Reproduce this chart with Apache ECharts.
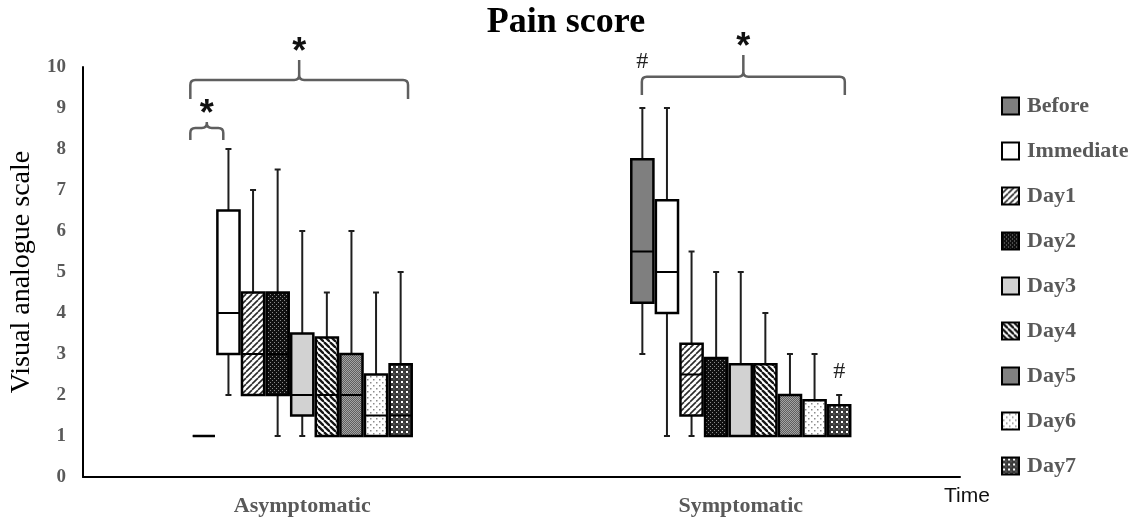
<!DOCTYPE html>
<html>
<head>
<meta charset="utf-8">
<script src="https://cdn.jsdelivr.net/npm/echarts@6/dist/echarts.min.js"></script>
<style>
  html, body { margin: 0; padding: 0; background: #fff; }
  #chart { width: 1132px; height: 517px; }
</style>
</head>
<body>
<div id="chart"></div>
<script>
// ---- data -------------------------------------------------------------
const groups = ['Asymptomatic', 'Symptomatic'];
const timePoints = ['Before', 'Immediate', 'Day1', 'Day2', 'Day3', 'Day4', 'Day5', 'Day6', 'Day7'];

// five-number summaries [min, Q1, median, Q3, max], one row per group
const before    = [[1, 1, 1, 1, 1],        [3, 4.25, 5.5, 7.75, 9]];
const immediate = [[2, 3, 4, 6.5, 8],      [1, 4, 5, 6.75, 9]];
const day1      = [[2, 2, 3, 4.5, 7],      [1, 1.5, 2.5, 3.25, 5.5]];
const day2      = [[1, 2, 3, 4.5, 7.5],    [1, 1, 1, 2.9, 5]];
const day3      = [[1, 1.5, 2, 3.5, 6],    [1, 1, 1, 2.75, 5]];
const day4      = [[1, 1, 2, 3.4, 4.5],    [1, 1, 1, 2.75, 4]];
const day5      = [[1, 1, 2, 3, 6],        [1, 1, 1, 2, 3]];
const day6      = [[1, 1, 1.5, 2.5, 4.5],  [1, 1, 1, 1.875, 3]];
const day7      = [[1, 1, 1.5, 2.75, 5],   [1, 1, 1, 1.75, 2]];
const summaries = [before, immediate, day1, day2, day3, day4, day5, day6, day7];

const yMin = 0, yMax = 10, yStep = 1;

// significance brackets: group, slot range, levels (axis units) and marker
const bracketGroup = [0, 0, 1];
const bracketFrom  = [-0.55, -0.55, -0.02];
const bracketTo    = [8.3, 0.79, 8.23];
const bracketLow   = [9.22, 8.22, 9.32];
const bracketMid   = [9.68, 8.51, 9.76];
const bracketTop   = [10.17, 8.66, 10.29];
const bracketMark  = ['*', '*', '*'];

// extra markers: group, slot, level, text
const markGroup = [1, 1];
const markSlot  = [0, 8];
const markLevel = [10.12, 2.56];
const markText  = ['#', '#'];

// ---- fills --------------------------------------------------------------
function pattern(size, draw) {
  const c = document.createElement('canvas');
  c.width = c.height = size;
  draw(c.getContext('2d'), size);
  return { image: c, repeat: 'repeat' };
}
function stripes(size, bg, fg, width, forward) {
  return pattern(size, (g, s) => {
    g.fillStyle = bg; g.fillRect(0, 0, s, s);
    g.strokeStyle = fg; g.lineWidth = width;
    for (let k = -1; k <= 1; k++) {
      g.beginPath();
      if (forward) { g.moveTo(k * s, s); g.lineTo(k * s + s, 0); }
      else { g.moveTo(k * s, 0); g.lineTo(k * s + s, s); }
      g.stroke();
    }
  });
}
const fills = [
  '#7f7f7f',
  '#ffffff',
  stripes(6, '#ffffff', '#2a2a2a', 1.6, true),
  pattern(4, (g, s) => { g.fillStyle = '#101010'; g.fillRect(0, 0, s, s);
    g.fillStyle = '#8a8a8a'; g.fillRect(0, 0, 1, 1); g.fillRect(2, 2, 1, 1); }),
  '#d2d2d2',
  stripes(6, '#ffffff', '#151515', 2.3, false),
  pattern(2, (g) => { g.fillStyle = '#5e5e5e'; g.fillRect(0, 0, 2, 2);
    g.fillStyle = '#a4a4a4'; g.fillRect(0, 0, 1, 1); g.fillRect(1, 1, 1, 1); }),
  pattern(6, (g, s) => { g.fillStyle = '#ffffff'; g.fillRect(0, 0, s, s);
    g.fillStyle = '#8c8c8c'; g.fillRect(1, 1, 1.5, 1.5); g.fillRect(4, 4, 1.5, 1.5); }),
  pattern(5, (g, s) => { g.fillStyle = '#3a3a3a'; g.fillRect(0, 0, s, s);
    g.fillStyle = '#ffffff'; g.fillRect(1, 1, 2, 2);
    g.fillStyle = '#9a9a9a'; g.fillRect(3.5, 3.5, 1, 1); })
];

// ---- layout helpers -------------------------------------------------------
const SLOT = 0.0561;   // slot pitch as a share of the category band
const BOX = 0.9;       // box width as a share of the slot pitch
const CAP = 6;
const centerSlot = (timePoints.length - 1) / 2;

function slotX(api, cat, slot) {
  const band = api.size([1, 0])[0];
  return api.coord([cat, 0])[0] + (slot - centerSlot) * band * SLOT;
}

function boxRenderer(slot, fill) {
  return function (params, api) {
    const cat = api.value(0);
    const band = api.size([1, 0])[0];
    const cx = slotX(api, cat, slot);
    const w = band * SLOT * BOX;
    const y = [1, 2, 3, 4, 5].map(k => api.coord([cat, api.value(k)])[1]);
    const [pMin, pQ1, pMed, pQ3, pMax] = y;
    const wStyle = { stroke: '#1e1e1e', lineWidth: 2 };
    const children = [];
    if (pMax < pQ3 - 0.5) {
      children.push({ type: 'line', shape: { x1: cx, y1: pQ3, x2: cx, y2: pMax }, style: wStyle });
      children.push({ type: 'line', shape: { x1: cx - CAP / 2, y1: pMax, x2: cx + CAP / 2, y2: pMax }, style: wStyle });
    }
    if (pMin > pQ1 + 0.5) {
      children.push({ type: 'line', shape: { x1: cx, y1: pQ1, x2: cx, y2: pMin }, style: wStyle });
      children.push({ type: 'line', shape: { x1: cx - CAP / 2, y1: pMin, x2: cx + CAP / 2, y2: pMin }, style: wStyle });
    }
    children.push({
      type: 'rect',
      shape: { x: cx - w / 2, y: pQ3, width: w, height: pQ1 - pQ3 },
      style: { fill: fill, stroke: '#000', lineWidth: 2.5 }
    });
    children.push({
      type: 'line',
      shape: { x1: cx - w / 2, y1: pMed, x2: cx + w / 2, y2: pMed },
      style: { stroke: '#000', lineWidth: 2 }
    });
    return { type: 'group', children };
  };
}

function bracketRenderer(params, api) {
  const i = params.dataIndex;
  const cat = api.value(0);
  const x1 = slotX(api, cat, bracketFrom[i]);
  const x2 = slotX(api, cat, bracketTo[i]);
  const xp = (x1 + x2) / 2;
  const yl = api.coord([cat, api.value(1)])[1];
  const ym = api.coord([cat, api.value(2)])[1];
  const yt = api.coord([cat, api.value(3)])[1];
  const ys = api.coord([cat, api.value(4)])[1];
  const r = 5;
  const d = [
    'M', x1, yl, 'L', x1, ym + r, 'Q', x1, ym, x1 + r, ym,
    'L', xp - r, ym, 'Q', xp, ym, xp, ym - r, 'L', xp, yt,
    'M', xp, ym - r, 'Q', xp, ym, xp + r, ym,
    'L', x2 - r, ym, 'Q', x2, ym, x2, ym + r, 'L', x2, yl
  ].join(' ');
  return {
    type: 'group',
    children: [
      { type: 'path', shape: { pathData: d }, style: { fill: 'none', stroke: '#5f5f5f', lineWidth: 2.5 } },
      { type: 'text', x: xp, y: ys, style: {
          text: bracketMark[i], fill: '#111', align: 'center', verticalAlign: 'middle',
          font: 'bold 36px "Liberation Sans", Arial, sans-serif' } }
    ]
  };
}

function markRenderer(params, api) {
  const i = params.dataIndex;
  const cat = api.value(0);
  const x = slotX(api, cat, markSlot[i]);
  const y = api.coord([cat, api.value(1)])[1];
  return { type: 'text', x: x, y: y, style: {
      text: markText[i], fill: '#222', align: 'center', verticalAlign: 'middle',
      font: '24px "Liberation Serif", "Times New Roman", serif' } };
}

// ---- chart ----------------------------------------------------------------
const serif = '"Liberation Serif", "Times New Roman", serif';

const boxSeries = timePoints.map((name, s) => ({
  name: name,
  type: 'custom',
  clip: false,
  renderItem: boxRenderer(s, fills[s]),
  itemStyle: { color: fills[s], borderColor: '#000', borderWidth: 2 },
  encode: { x: 0, y: [1, 2, 3, 4, 5] },
  data: groups.map((g, gi) => [gi].concat(summaries[s][gi]))
}));

const chart = echarts.init(document.getElementById('chart'), null, { renderer: 'canvas' });
chart.setOption({
  animation: false,
  backgroundColor: '#fff',
  title: [
    { text: 'Pain score', left: 'center', top: 5, padding: 0,
      textStyle: { fontFamily: serif, fontWeight: 'bold', fontSize: 36, color: '#000' } },
    { text: 'Time', left: 944, top: 486, padding: 0,
      textStyle: { fontFamily: '"Liberation Sans", Arial, sans-serif', fontWeight: 'normal', fontSize: 21, color: '#111' } }
  ],
  legend: {
    data: timePoints,
    orient: 'vertical',
    left: 1001,
    top: 95,
    padding: 0,
    itemWidth: 17,
    itemHeight: 17,
    itemGap: 23,
    icon: 'rect',
    selectedMode: false,
    itemStyle: { borderColor: '#000', borderWidth: 2 },
    textStyle: { fontFamily: serif, fontWeight: 'bold', fontSize: 22, color: '#595959', padding: [0, 0, 0, 3] }
  },
  grid: { left: 83, right: 172, top: 67, bottom: 40, containLabel: false, outerBoundsMode: 'none' },
  xAxis: {
    type: 'category',
    data: groups,
    axisLine: { lineStyle: { color: '#000', width: 2 } },
    axisTick: { show: false },
    axisLabel: { fontFamily: serif, fontWeight: 'bold', fontSize: 22, color: '#595959', margin: 18 },
    splitLine: { show: false }
  },
  yAxis: {
    type: 'value',
    min: yMin,
    max: yMax,
    interval: yStep,
    name: 'Visual analogue scale',
    nameLocation: 'middle',
    nameGap: 47,
    nameRotate: 90,
    nameTextStyle: { fontFamily: serif, fontSize: 28, color: '#000' },
    axisLine: { show: true, lineStyle: { color: '#000', width: 2 } },
    axisTick: { show: false },
    splitLine: { show: false },
    axisLabel: { fontFamily: serif, fontWeight: 'bold', fontSize: 19, color: '#595959', margin: 17 }
  },
  series: boxSeries.concat([
    {
      name: 'brackets',
      type: 'custom',
      clip: false,
      silent: true,
      renderItem: bracketRenderer,
      encode: { x: 0, y: [1, 2, 3, 4] },
      data: bracketGroup.map((g, i) => [g, bracketLow[i], bracketMid[i], bracketTop[i], bracketTop[i] + 0.16])
    },
    {
      name: 'marks',
      type: 'custom',
      clip: false,
      silent: true,
      renderItem: markRenderer,
      encode: { x: 0, y: 1 },
      data: markGroup.map((g, i) => [g, markLevel[i]])
    }
  ])
});
</script>
</body>
</html>
